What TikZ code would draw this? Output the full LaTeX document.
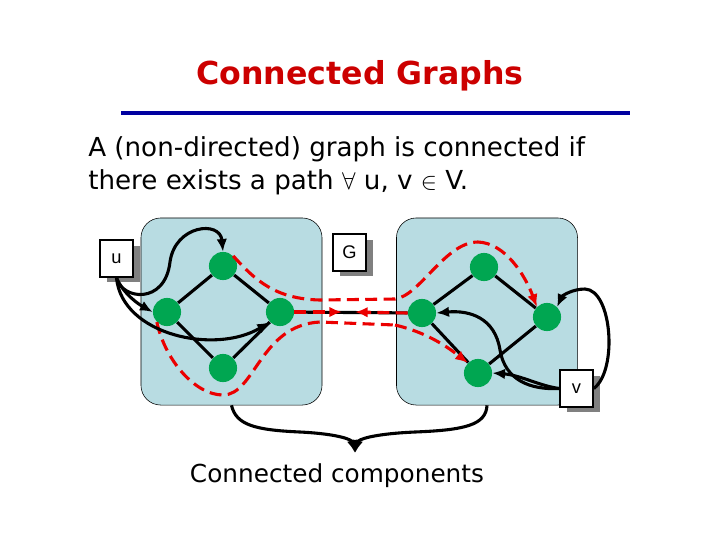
\documentclass[tikz,border=0pt]{standalone}
\usepackage{fontspec}
\setmainfont{DejaVu Sans}
\setsansfont{Liberation Sans}
\usetikzlibrary{
    arrows.meta,
    positioning,
    shadows
}
\definecolor{SlideRed}{RGB}{204,0,0}
\definecolor{RuleBlue}{RGB}{0,0,160}
\definecolor{PaleCyan}{RGB}{184,220,226}
\definecolor{VertexGreen}{RGB}{0,166,81}
\definecolor{PathRed}{RGB}{235,0,0}

\begin{document}
\begin{tikzpicture}[
    x=0.025cm, y=-0.025cm,
    >={Latex[length=9pt,width=7.5pt]},
    vertex/.style={circle, fill=VertexGreen, minimum size=20pt, inner sep=0pt},
    edge/.style={line width=2.2pt},
    component/.style={rounded corners=14pt, fill=PaleCyan, draw=black, thin,
        minimum width=4.525cm, minimum height=4.675cm},
    endbox/.style={draw, line width=1.6pt, fill=white, minimum width=23pt,
        minimum height=26pt, inner sep=0pt,
        font=\sffamily\fontsize{13}{13}\selectfont,
        drop shadow={shadow xshift=5pt, shadow yshift=-4pt, fill=gray, opacity=1}},
    walk/.style={PathRed, line width=2.2pt, dash pattern=on 8.5pt off 4.5pt},
    link/.style={->, line width=2.2pt}
]
\useasboundingbox (0,0) rectangle (720,540);

% heading
\node[text=SlideRed, font=\bfseries\fontsize{22.5}{22.5}\selectfont] (title) at (360,76) {Connected Graphs};
\coordinate (ruleL) at (121,113);
\coordinate (ruleR) at (630,113);
\draw[RuleBlue, line width=2.2pt] (ruleL) -- (ruleR);

\node[anchor=west, align=left, inner sep=0pt, font=\fontsize{18.6}{23.5}\selectfont] (intro) at (88,166)
    {A (non-directed) graph is connected if\\there exists a path $\forall$ u, v $\in$ V.};

% the two components
\node[component] (compL) at (231.5,311.5) {};
\node[component] (compR) at (487,311.5) {};

\node[vertex] (Ltop) at (223,266) {};
\node[vertex] (Lleft) at (167,312) {};
\node[vertex] (Lright) at (280,312) {};
\node[vertex] (Lbot) at (223,368) {};

\node[vertex] (Rtop) at (484,267) {};
\node[vertex] (Rleft) at (422,313) {};
\node[vertex] (Rright) at (547,317) {};
\node[vertex] (Rbot) at (478,373) {};

\draw[edge] (Ltop) -- (Lleft);
\draw[edge] (Ltop) -- (Lright);
\draw[edge] (Lleft) -- (Lbot);
\draw[edge] (Lbot) -- (Lright);

\draw[edge] (Rtop) -- (Rleft);
\draw[edge] (Rtop) -- (Rright);
\draw[edge] (Rleft) -- (Rbot);
\draw[edge] (Rright) -- (Rbot);

% labels
\node[endbox] (u) at (116.5,258.5) {u};
\node[endbox] (G) at (349.5,252.5) {G};
\node[endbox] (v) at (576.5,388.5) {v};

% no path between the components
\coordinate (meetL) at (342,312);
\coordinate (meetR) at (355,312);
\draw[edge] (Lright) -- (Rleft);
\draw[walk, ->] (Lright.east) -- (meetL);
\draw[walk, ->] (Rleft.west) -- (meetR);

\draw[walk] (Ltop.north east)
    .. controls (255,280) and (275,299) .. (320,300)
    -- (395,299)
    .. controls (420,296) and (445,242) .. (478,242);
\draw[walk, ->] (478,242)
    .. controls (505,243) and (525,275) .. (Rright.north west);

\draw[walk] (Lleft.south west)
    .. controls (165,360) and (195,395) .. (223,395)
    .. controls (255,395) and (260,325) .. (320,322)
    -- (395,325);
\draw[walk, ->] (395,325)
    .. controls (425,332) and (445,345) .. (Rbot.north west);

% paths from u
\draw[link] (u.south)
    .. controls (122,300) and (165,305) .. (170,262)
    .. controls (175,225) and (220,220) .. (Ltop.north);
\draw[link] (u.south)
    .. controls (124,295) and (140,305) .. (Lleft.west);
\draw[link] (u.south)
    .. controls (122,335) and (215,355) .. (Lright.south west);

% paths to v
\draw[link] (v.east)
    .. controls (618,370) and (612,290) .. (585,289)
    .. controls (572,289) and (562,296) .. (Rright.north east);
\draw[link] (v.west)
    .. controls (530,390) and (505,380) .. (500,350)
    .. controls (495,318) and (470,310) .. (Rleft.east);
\draw[link] (v.west)
    .. controls (540,386) and (520,375) .. (Rbot.east);

% brace to caption
\coordinate (merge) at (355,453);
\draw[link] (compL.south)
    .. controls (236,425) and (255,430) .. (300,432)
    .. controls (340,434) and (352,440) .. (merge);
\draw[link] (compR.south)
    .. controls (486,425) and (465,430) .. (415,432)
    .. controls (370,434) and (358,440) .. (merge);

\node[font=\fontsize{17.6}{17.6}\selectfont] (caption) at (337,476) {Connected components};

\end{tikzpicture}
\end{document}
